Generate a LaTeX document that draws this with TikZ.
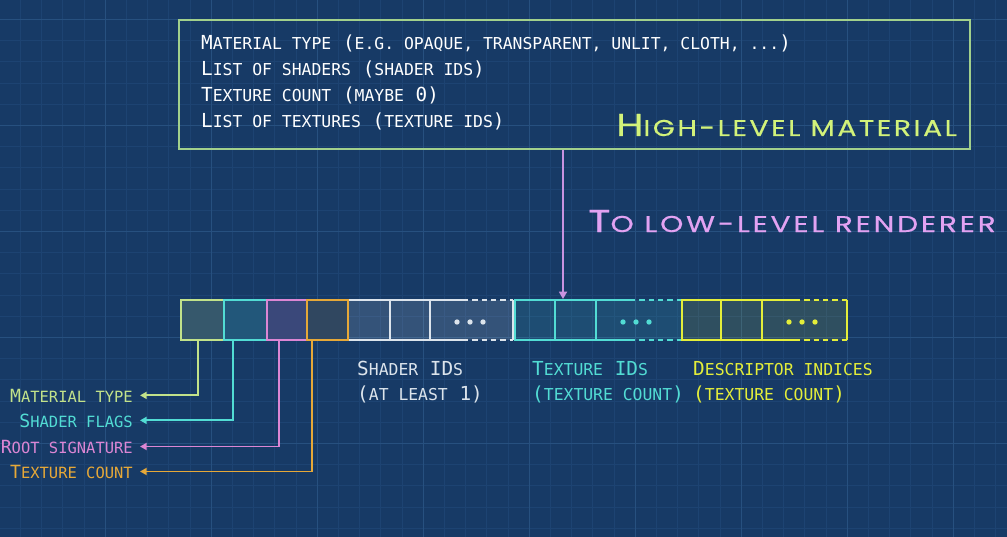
\documentclass[tikz,border=0pt]{standalone}
\usepackage{fontspec}
\newfontfamily\monofont{DejaVu Sans Mono}
\newfontfamily\headfont[FakeStretch=1.24, LetterSpace=11, FakeBold=0.5]{Poppins}
\newfontfamily\lowfont[FakeStretch=1.3, LetterSpace=12, FakeBold=0.5]{Poppins}
\usetikzlibrary{arrows.meta, fit}

\definecolor{bgblue}{HTML}{173A66}
\definecolor{gridminor}{HTML}{1D4372}
\definecolor{gridmajor}{HTML}{27507F}
\definecolor{matgreen}{HTML}{C2E28A}
\definecolor{shcyan}{HTML}{52DCD4}
\definecolor{rootpink}{HTML}{DC86D4}
\definecolor{texorange}{HTML}{E6A838}
\definecolor{idwhite}{HTML}{DCE4EC}
\definecolor{descyellow}{HTML}{E4EE3A}
\definecolor{boxgreen}{HTML}{A2D08C}
\definecolor{headgreen}{HTML}{D2F27A}
\definecolor{lowpink}{HTML}{E2A2F2}
\definecolor{arrowpink}{HTML}{C892E0}

\newcommand\smsize{14}
\newcommand\bodyfont{\monofont\fontsize{16.5}{19}\selectfont}
\newcommand\sm[1]{{\fontsize{\smsize}{17}\selectfont\MakeUppercase{#1}}}
\newcommand\hs[1]{{\fontsize{19.5}{22}\selectfont\MakeUppercase{#1}}}

\tikzset{
  txt/.style={inner sep=0, font=\bodyfont, text=white},
  headtxt/.style={inner sep=0, font=\headfont\fontsize{27}{30}\selectfont},
  cellbox/.style={minimum height=1.2cm, inner sep=0, line width=1.6pt},
  barline/.style={line width=1.6pt},
  dashbar/.style={line width=1.6pt, dash pattern=on 0.16cm off 0.12cm},
  leader/.style={line width=1.6pt, -{Triangle[width=0.21cm, length=0.2cm]}},
  lbl/.style={inner sep=0, inner xsep=0.21cm, anchor=base east,
    font=\monofont\fontsize{15.5}{18}\selectfont\renewcommand\smsize{13.2}},
}

\begin{document}
\begin{tikzpicture}[x=0.03cm, y=-0.03cm]
\useasboundingbox (0,0) rectangle (1007,537);
\fill[bgblue] (0,0) rectangle (1007,537);
\foreach \i in {0,...,48} {
  \draw[gridminor, line width=0.4pt] (\i*21.2-1,0) -- (\i*21.2-1,537);
}
\foreach \i in {0,...,26} {
  \draw[gridminor, line width=0.4pt] (0,\i*21.2-2) -- (1007,\i*21.2-2);
}
\foreach \i in {0,...,9} {
  \draw[gridmajor, line width=0.6pt] (\i*106-1,0) -- (\i*106-1,537);
}
\foreach \i in {0,...,5} {
  \draw[gridmajor, line width=0.6pt] (0,\i*106+19) -- (1007,\i*106+19);
}

% high-level material box
\node[draw=boxgreen, line width=1.4pt, inner sep=0, fit={(179,20) (970,149)}] (hlm) {};
\node[txt, anchor=base west] (line1) at (201,50) {M\sm{aterial type} (\sm{e.g. opaque, transparent, unlit, cloth, ...})};
\node[txt, anchor=base west] (line2) at (201,76) {L\sm{ist of shaders} (\sm{shader ids})};
\node[txt, anchor=base west] (line3) at (201,102) {T\sm{exture count} (\sm{maybe} 0)};
\node[txt, anchor=base west] (line4) at (201,128) {L\sm{ist of textures} (\sm{texture ids})};
\node[headtxt, text=headgreen, anchor=base west] (hltitle) at (616,136) {H\hs{igh-level material}};

\node[headtxt, font=\lowfont\fontsize{27}{30}\selectfont, text=lowpink, anchor=base west] (lowtitle) at (588,232) {T\hs{o low-level renderer}};
\coordinate (bartop) at (563,299);
\draw[arrowpink, line width=1.4pt, -{Triangle[width=0.24cm, length=0.22cm]}] (hlm.south -| bartop) -- (bartop);

% shader ids
\fill[fill=idwhite, fill opacity=0.15] (348,300) rectangle (513,340);
\draw[idwhite, barline] (463,300) -- (348,300) -- (348,340) -- (463,340);
\draw[idwhite, barline] (390,300) -- (390,340) (430,300) -- (430,340) (513,300) -- (513,340);
\draw[idwhite, dashbar] (463,300) -- (513,300) (463,340) -- (513,340);
\foreach \x in {457,470,483} \fill[idwhite] (\x,322) circle[radius=0.08cm];

% texture ids
\fill[fill=shcyan, fill opacity=0.12] (515,300) rectangle (682,340);
\draw[shcyan, barline] (630,300) -- (515,300) -- (515,340) -- (630,340);
\draw[shcyan, barline] (555,300) -- (555,340) (596,300) -- (596,340);
\draw[shcyan, dashbar] (630,300) -- (682,300) (630,340) -- (682,340);
\foreach \x in {623,636,649} \fill[shcyan] (\x,322) circle[radius=0.08cm];

% descriptor indices
\fill[fill=descyellow, fill opacity=0.12] (682,300) rectangle (847,340);
\draw[descyellow, barline] (795,300) -- (682,300) -- (682,340) -- (795,340);
\draw[descyellow, barline] (721,300) -- (721,340) (762,300) -- (762,340) (847,300) -- (847,340);
\draw[descyellow, dashbar] (795,300) -- (847,300) (795,340) -- (847,340);
\foreach \x in {789,802,815} \fill[descyellow] (\x,322) circle[radius=0.08cm];

% header cells
\node[cellbox, draw=matgreen, fill=matgreen!18!bgblue, minimum width=1.29cm] (cMat) at (202.5,320) {};
\node[cellbox, draw=shcyan, fill=shcyan!18!bgblue, minimum width=1.29cm] (cShd) at (245.5,320) {};
\node[cellbox, draw=rootpink, fill=rootpink!18!bgblue, minimum width=1.2cm] (cRoot) at (287,320) {};
\node[cellbox, draw=texorange, fill=texorange!12!bgblue, minimum width=1.23cm] (cTex) at (327.5,320) {};

% labels below the bar
\node[txt, anchor=base west, text=idwhite] (shIds) at (357,375) {S\sm{hader} ID\sm{s}};
\node[txt, anchor=base west, text=idwhite] (shCnt) at (357,400) {(\sm{at least} 1)};
\node[txt, anchor=base west, text=shcyan] (txIds) at (532,375) {T\sm{exture} ID\sm{s}};
\node[txt, anchor=base west, text=shcyan] (txCnt) at (532,400) {(\sm{texture count})};
\node[txt, anchor=base west, text=descyellow] (dsIds) at (693,375) {D\sm{escriptor indices}};
\node[txt, anchor=base west, text=descyellow] (dsCnt) at (693,400) {(\sm{texture count})};

% header legend
\node[lbl, text=matgreen] (lMat) at (140,402) {M\sm{aterial type}};
\node[lbl, text=shcyan] (lShd) at (140,427) {S\sm{hader flags}};
\node[lbl, text=rootpink] (lRoot) at (140,453) {R\sm{oot signature}};
\node[lbl, text=texorange] (lTex) at (140,478) {T\sm{exture count}};
\draw[leader, matgreen] ([xshift=-0.135cm]cMat.south) |- (lMat.east);
\draw[leader, shcyan] ([xshift=-0.375cm]cShd.south) |- (lShd.east);
\draw[leader, rootpink] ([xshift=-0.24cm]cRoot.south) |- (lRoot.east);
\draw[leader, texorange] ([xshift=-0.465cm]cTex.south) |- (lTex.east);

\end{tikzpicture}
\end{document}
